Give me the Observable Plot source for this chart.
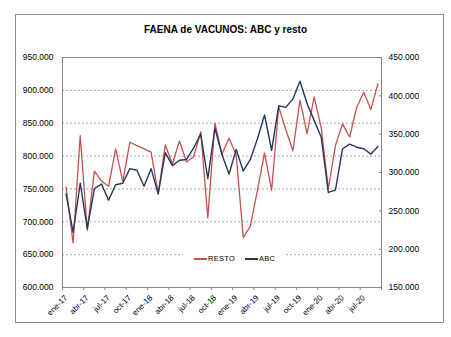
<!DOCTYPE html>
<html>
<head>
<meta charset="utf-8">
<script src="https://cdn.jsdelivr.net/npm/d3@7"></script>
<script src="https://cdn.jsdelivr.net/npm/@observablehq/plot@0.6"></script>
<style>
  body { margin: 0; background: #fff; }
  #wrap { position: relative; width: 451px; height: 337px; background: #fff; font-family: "Liberation Sans", Arial, sans-serif; }
  #chart { position: absolute; left: 0; top: 0; }
  #frame { position: absolute; left: 15px; top: 14px; width: 427px; height: 307px; border: 1px solid #8c8c8c; pointer-events: none; }
  #title { position: absolute; left: 0; width: 451px; top: 24px; text-align: center; font-size: 10px; font-weight: bold; color: #000; }
  #legend { position: absolute; left: 183px; top: 250px; width: 102px; height: 17px; background: #fff; font-size: 7.5px; color: #000; }
  .sw { position: absolute; top: 8px; width: 13px; height: 0; border-top: 2px solid; }
  .lt { position: absolute; top: 4px; line-height: 9px; letter-spacing: 0.3px; }
</style>
</head>
<body>
<div id="wrap">
  <div id="chart"></div>
  <div id="title"></div>
  <div id="legend"></div>
  <div id="frame"></div>
</div>
<script>
const title = "FAENA de VACUNOS: ABC y resto";
const seriesNames = ["RESTO", "ABC"];
const seriesColors = ["#c8504f", "#23385a"];

const months = [
  "ene-17","feb-17","mar-17","abr-17","may-17","jun-17","jul-17","ago-17","sep-17","oct-17","nov-17","dic-17",
  "ene-18","feb-18","mar-18","abr-18","may-18","jun-18","jul-18","ago-18","sep-18","oct-18","nov-18","dic-18",
  "ene-19","feb-19","mar-19","abr-19","may-19","jun-19","jul-19","ago-19","sep-19","oct-19","nov-19","dic-19",
  "ene-20","feb-20","mar-20","abr-20","may-20","jun-20","jul-20","ago-20","sep-20"
];

const resto = [
  753000, 668000, 831000, 687000, 777000, 762000, 754000, 811000, 761000, 821000, 816000, 811000,
  806000, 743000, 817000, 788000, 823000, 791000, 799000, 837000, 706000, 850000, 803000, 827000,
  802000, 676000, 693000, 748000, 805000, 748000, 875000, 840000, 808000, 885000, 834000, 890000,
  843000, 750000, 816000, 849000, 829000, 874000, 897000, 871000, 910000
];

const abc = [
  272000, 222000, 286000, 227000, 279000, 285000, 264000, 284000, 286000, 305000, 303000, 282000,
  305000, 272000, 326000, 309000, 316000, 317000, 332000, 350000, 292000, 358000, 323000, 298000,
  330000, 302000, 317000, 344000, 375000, 329000, 387000, 385000, 396000, 419000, 390000, 368000,
  346000, 274000, 277000, 331000, 337000, 333000, 331000, 324000, 334000
];

const leftTicks = [600000, 650000, 700000, 750000, 800000, 850000, 900000, 950000];
const rightTicks = [150000, 200000, 250000, 300000, 350000, 400000, 450000];
const gridVals = [650000, 700000, 750000, 800000, 850000, 900000];

const leftDomain = [600000, 950000];
const rightDomain = [150000, 450000];
const toLeft = v => leftDomain[0] + (v - rightDomain[0]) * (leftDomain[1] - leftDomain[0]) / (rightDomain[1] - rightDomain[0]);
const fromLeft = v => rightDomain[0] + (v - leftDomain[0]) * (rightDomain[1] - rightDomain[0]) / (leftDomain[1] - leftDomain[0]);

const fmt = d3.formatLocale({decimal: ",", thousands: ".", grouping: [3], currency: ["", ""]}).format(",d");

const restoData = resto.map((v, i) => ({i, v}));
const abcData = abc.map((v, i) => ({i, v}));
const n = months.length;
const labelIdx = d3.range(0, n, 3);
const boundaries = d3.range(-0.5, n, 3).concat([n - 0.5]);

const plot = Plot.plot({
  width: 451,
  height: 337,
  marginLeft: 62,
  marginRight: 70,
  marginTop: 57,
  marginBottom: 50,
  style: {fontFamily: "'Liberation Sans', Arial, sans-serif", fontSize: "8.5px", color: "#000", background: "transparent"},
  x: {domain: [-0.5, n - 0.5]},
  y: {domain: leftDomain},
  marks: [
    Plot.ruleY(gridVals, {stroke: "#a6a6a6", strokeWidth: 1, strokeDasharray: "2,2"}),
    Plot.frame({stroke: "#868686"}),
    Plot.line(restoData, {x: "i", y: "v", stroke: seriesColors[0], strokeWidth: 1.3}),
    Plot.line(abcData, {x: "i", y: d => toLeft(d.v), stroke: seriesColors[1], strokeWidth: 1.4}),
    Plot.axisY({anchor: "left", ticks: leftTicks, tickSize: 0, tickPadding: 9, tickFormat: fmt, label: null}),
    Plot.axisY({anchor: "right", ticks: rightTicks.map(toLeft), tickFormat: v => fmt(Math.round(fromLeft(v))), tickSize: 3, dx: -3, tickPadding: 7, stroke: "#868686", label: null}),
    Plot.axisX({ticks: boundaries, tickSize: 3, stroke: "#868686", tickFormat: () => "", label: null}),
    Plot.axisX({ticks: labelIdx, tickSize: 0, tickRotate: -45, tickPadding: 9, fontSize: 8, tickFormat: i => months[i], label: null})
  ]
});
document.getElementById("chart").appendChild(plot);

document.getElementById("title").textContent = title;

const legend = document.getElementById("legend");
const legendX = [[11, 25], [62, 76]];
seriesNames.forEach((name, k) => {
  const sw = document.createElement("div");
  sw.className = "sw";
  sw.style.left = legendX[k][0] + "px";
  sw.style.borderTopColor = seriesColors[k];
  legend.appendChild(sw);
  const t = document.createElement("div");
  t.className = "lt";
  t.style.left = legendX[k][1] + "px";
  t.textContent = name;
  legend.appendChild(t);
});
</script>
</body>
</html>
